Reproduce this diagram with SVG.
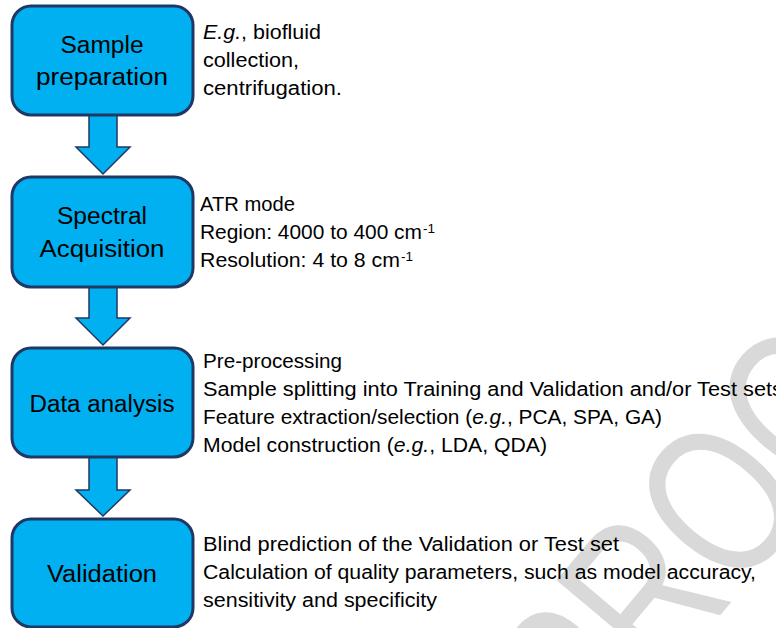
<svg xmlns="http://www.w3.org/2000/svg" width="776" height="628" viewBox="0 0 776 628">
<style>
.box{fill:#00B0F0;stroke:#1F3864;stroke-width:3}
.arr{fill:#00B0F0;stroke:#1F3864;stroke-width:1.5;stroke-linejoin:miter}
.lbl{font-family:"Liberation Sans",Arial,sans-serif;font-size:23px;fill:#000;text-anchor:middle}
.side{font-family:"Liberation Sans",Arial,sans-serif;font-size:20px;fill:#000}
.sup{font-family:"Liberation Sans",Arial,sans-serif;font-size:13px;fill:#000}
.wm{font-family:"Liberation Sans",Arial,sans-serif;font-size:215px;fill:#D9D9D9}
</style>
<rect width="776" height="628" fill="#FFFFFF"/>
<text class="wm" transform="translate(592,768) rotate(-50) scale(0.75,1)">PROOF</text>
<g id="connectors">
<polygon class="arr" points="89,115 117,115 117,147 130,147 103,174 76,147 89,147"/>
<polygon class="arr" points="89,287 117,287 117,318 130,318 103,345 76,318 89,318"/>
<polygon class="arr" points="89,457 117,457 117,490 130,490 103,516 76,490 89,490"/>
</g>
<g id="node-sample">
<rect class="box" x="12" y="6" width="181" height="109" rx="19"/>
<text class="lbl" x="102" y="53" textLength="83" lengthAdjust="spacingAndGlyphs">Sample</text>
<text class="lbl" x="102" y="85" textLength="132" lengthAdjust="spacingAndGlyphs">preparation</text>
<text class="side" x="203" y="39" textLength="118" lengthAdjust="spacingAndGlyphs"><tspan font-style="italic">E.g.</tspan>, biofluid</text>
<text class="side" x="203" y="67" textLength="96" lengthAdjust="spacingAndGlyphs">collection,</text>
<text class="side" x="203" y="95" textLength="139" lengthAdjust="spacingAndGlyphs">centrifugation.</text>
</g>
<g id="node-spectral">
<rect class="box" x="12" y="177" width="181" height="110" rx="19"/>
<text class="lbl" x="102" y="224" textLength="90" lengthAdjust="spacingAndGlyphs">Spectral</text>
<text class="lbl" x="102" y="257" textLength="125" lengthAdjust="spacingAndGlyphs">Acquisition</text>
<text class="side" x="200" y="211" textLength="95" lengthAdjust="spacingAndGlyphs">ATR mode</text>
<text class="side" x="200" y="239" textLength="222" lengthAdjust="spacingAndGlyphs">Region: 4000 to 400 cm</text>
<text class="sup" x="423" y="233" textLength="12" lengthAdjust="spacingAndGlyphs">-1</text>
<text class="side" x="200" y="267" textLength="200" lengthAdjust="spacingAndGlyphs">Resolution: 4 to 8 cm</text>
<text class="sup" x="401" y="261" textLength="12" lengthAdjust="spacingAndGlyphs">-1</text>
</g>
<g id="node-data">
<rect class="box" x="12" y="348" width="181" height="109" rx="19"/>
<text class="lbl" x="102" y="412" textLength="145" lengthAdjust="spacingAndGlyphs">Data analysis</text>
<text class="side" x="203" y="368" textLength="139" lengthAdjust="spacingAndGlyphs">Pre-processing</text>
<text class="side" x="203" y="396" textLength="580" lengthAdjust="spacingAndGlyphs">Sample splitting into Training and Validation and/or Test sets</text>
<text class="side" x="203" y="424" textLength="459" lengthAdjust="spacingAndGlyphs">Feature extraction/selection (<tspan font-style="italic">e.g.</tspan>, PCA, SPA, GA)</text>
<text class="side" x="203" y="452" textLength="344" lengthAdjust="spacingAndGlyphs">Model construction (<tspan font-style="italic">e.g.</tspan>, LDA, QDA)</text>
</g>
<g id="node-validation">
<rect class="box" x="12" y="519" width="181" height="108" rx="19"/>
<text class="lbl" x="102" y="582" textLength="110" lengthAdjust="spacingAndGlyphs">Validation</text>
<text class="side" x="203" y="551" textLength="416" lengthAdjust="spacingAndGlyphs">Blind prediction of the Validation or Test set</text>
<text class="side" x="203" y="579" textLength="553" lengthAdjust="spacingAndGlyphs">Calculation of quality parameters, such as model accuracy,</text>
<text class="side" x="203" y="607" textLength="234" lengthAdjust="spacingAndGlyphs">sensitivity and specificity</text>
</g>
</svg>
